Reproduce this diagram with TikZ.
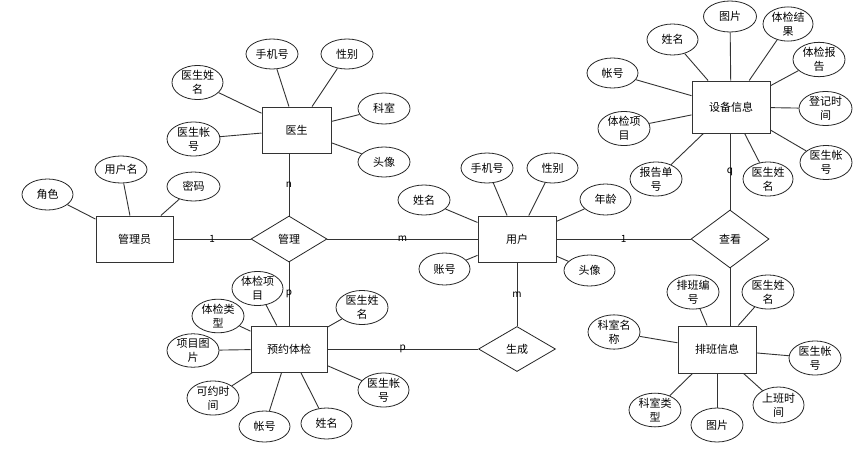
\documentclass[tikz,border=0pt]{standalone}
\usepackage{fontspec}
\setmainfont{Noto Sans CJK SC}
\usetikzlibrary{shapes.geometric}
\begin{document}
\begin{tikzpicture}[x=1pt,y=-1pt,
  ent/.style={draw=black!80, line width=1pt, fill=white, inner sep=0pt, font=\fontsize{11}{14}\selectfont},
  attr/.style={draw=black!85, ellipse, line width=0.8pt, fill=white, inner sep=0pt, minimum width=52, minimum height=31, align=center, font=\fontsize{11}{14}\selectfont},
  rel/.style={draw=black!85, diamond, line width=0.8pt, fill=white, inner sep=0pt, minimum width=76, minimum height=46, font=\fontsize{11}{14}\selectfont},
  conn/.style={draw=black!80, line width=0.9pt},
  card/.style={font=\fontsize{10}{11}\selectfont, inner sep=0pt}]
\useasboundingbox[fill=white] (0,0) rectangle (866,453);
% entities
\node[ent, minimum width=77, minimum height=46] (gly) at (134.5,239) {管理员};
\node[ent, minimum width=69, minimum height=46] (ys) at (296.5,130) {医生};
\node[ent, minimum width=78, minimum height=46] (yh) at (517,239) {用户};
\node[ent, minimum width=78, minimum height=52] (sb) at (731,107) {设备信息};
\node[ent, minimum width=78, minimum height=47] (pb) at (717,349.5) {排班信息};
\node[ent, minimum width=76, minimum height=46] (yy) at (289,349) {预约体检};
% relations
\node[rel] (gl) at (289,239) {管理};
\node[rel, minimum width=78, minimum height=58] (ck) at (730,239) {查看};
\node[rel, minimum width=77, minimum height=45] (sc) at (517,349) {生成};
% attributes of 管理员
\node[attr, minimum width=51] (a1) at (47.5,194.5) {角色};
\node[attr, minimum height=27] (a2) at (121,169.5) {用户名};
\node[attr, minimum width=53, minimum height=29] (a3) at (193.5,186.5) {密码};
% attributes of 医生
\node[attr, minimum width=51] (d1) at (197.5,82.5) {医生姓\\名};
\node[attr, minimum width=53, minimum height=30] (d2) at (193.5,139) {医生帐\\号};
\node[attr, minimum height=30] (d3) at (272,54) {手机号};
\node[attr, minimum height=30] (d4) at (347,54) {性别};
\node[attr] (d5) at (384,108.5) {科室};
\node[attr, minimum height=30] (d6) at (384,162) {头像};
% attributes of 用户
\node[attr, minimum height=30] (u1) at (487,168) {手机号};
\node[attr, minimum width=51, minimum height=30] (u2) at (552.5,168) {性别};
\node[attr, minimum height=30] (u3) at (424,200) {姓名};
\node[attr, minimum width=51] (u4) at (605.5,199.5) {年龄};
\node[attr, minimum width=51, minimum height=32] (u5) at (444.5,269) {账号};
\node[attr, minimum width=51] (u6) at (589.5,270.5) {头像};
% attributes of 设备信息
\node[attr, minimum width=53] (s1) at (730,16.5) {图片};
\node[attr, minimum width=51] (s2) at (672.5,39.5) {姓名};
\node[attr, minimum width=50, minimum height=34] (s3) at (788,24) {体检结\\果};
\node[attr, minimum height=33] (s4) at (819,59.5) {体检报\\告};
\node[attr, minimum width=51, minimum height=30] (s5) at (612.5,73) {帐号};
\node[attr, minimum width=53] (s6) at (825.5,108.5) {登记时\\间};
\node[attr] (s7) at (624,128.5) {体检项\\目};
\node[attr] (s8) at (826,162.5) {医生帐\\号};
\node[attr, minimum height=32] (s9) at (656,179) {报告单\\号};
\node[attr, minimum width=50, minimum height=32] (s10) at (768,179) {医生姓\\名};
% attributes of 排班信息
\node[attr, minimum height=30] (p1) at (693,292) {排班编\\号};
\node[attr, minimum height=30] (p2) at (768,292) {医生姓\\名};
\node[attr, minimum height=30] (p3) at (614,332) {科室名\\称};
\node[attr, minimum height=30] (p4) at (815,358) {医生帐\\号};
\node[attr, minimum height=32] (p5) at (655,410) {科室类\\型};
\node[attr, minimum height=34] (p6) at (717,425) {图片};
\node[attr, minimum width=51, minimum height=36] (p7) at (778.5,405) {上班时\\间};
% attributes of 预约体检
\node[attr, minimum width=51] (y1) at (257.5,288.5) {体检项\\目};
\node[attr, minimum height=30] (y2) at (218,316) {体检类\\型};
\node[attr] (y3) at (193,350.5) {项目图\\片};
\node[attr, minimum height=29] (y4) at (362,307.5) {医生姓\\名};
\node[attr, minimum width=51, minimum height=30] (y5) at (383.5,390) {医生帐\\号};
\node[attr, minimum height=32] (y6) at (213,398) {可约时\\间};
\node[attr, minimum width=51] (y7) at (264.5,426.5) {帐号};
\node[attr, minimum width=51] (y8) at (326.5,423.5) {姓名};
% attribute connectors
\foreach \e/\a in {gly/a1,gly/a2,gly/a3,
  ys/d1,ys/d2,ys/d3,ys/d4,ys/d5,ys/d6,
  yh/u1,yh/u2,yh/u3,yh/u4,yh/u5,yh/u6,
  sb/s1,sb/s2,sb/s3,sb/s4,sb/s5,sb/s6,sb/s7,sb/s8,sb/s9,sb/s10,
  pb/p1,pb/p2,pb/p3,pb/p4,pb/p5,pb/p6,pb/p7,
  yy/y1,yy/y2,yy/y3,yy/y4,yy/y5,yy/y6,yy/y7,yy/y8}
  \draw[conn] (\e) -- (\a);
% relationship connectors
\draw[conn] (gly) -- node[card]{1} (gl);
\draw[conn] (gl.north) -- node[card]{n} (gl.north |- ys.south);
\draw[conn] (gl) -- node[card]{m} (yh);
\draw[conn] (gl) -- node[card]{p} (yy);
\draw[conn] (yy) -- node[card]{p} (sc);
\draw[conn] (yh) -- node[card]{m} (sc);
\draw[conn] (yh) -- node[card]{1} (ck);
\draw[conn] (sb.south -| ck.north) -- node[card]{q} (ck.north);
\draw[conn] (ck.south) -- (ck.south |- pb.north);
\end{tikzpicture}
\end{document}
